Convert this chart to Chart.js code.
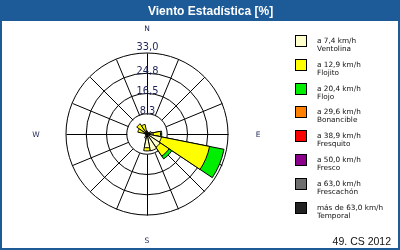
<!DOCTYPE html>
<html>
<head>
<meta charset="utf-8">
<script src="https://cdn.jsdelivr.net/npm/chart.js@4/dist/chart.umd.min.js"></script>
<style>
  html, body { margin: 0; padding: 0; background: #ffffff; }
  #wrap { position: absolute; left: 0; top: 0; width: 400px; height: 250px; }
</style>
</head>
<body>
<div id="wrap"><canvas id="c" width="400" height="250"></canvas></div>
<script>
// ---------------- DATA ----------------
const titleText = 'Viento Estadística [%]';
const footerText = '49. CS 2012';
const directions = ['N','NNE','NE','ENE','E','ESE','SE','SSE','S','SSW','SW','WSW','W','WNW','NW','NNW'];
// percentage per speed class and direction
const ventolina  = [1.2, 0.8, 0.8, 1.8, 2.5, 6.0, 6.5, 7.0, 5.6, 1.8, 0.8, 0.6, 0.8, 1.2, 1.8, 1.2];
const flojito    = [0, 0, 0, 0, 3.0, 20.0, 4.3, 0, 1.3, 0, 0, 0, 0, 2.6, 3.2, 2.8];
const flojo      = [0, 0, 0, 0, 0.5, 6.0, 1.4, 0, 0, 0, 0, 0, 0, 0, 0, 0];
const bonancible = [0, 0, 0, 0, 0, 0, 0, 0, 0, 0, 0, 0, 0, 0, 0, 0];
const fresquito  = [0, 0, 0, 0, 0, 0, 0, 0, 0, 0, 0, 0, 0, 0, 0, 0];
const fresco     = [0, 0, 0, 0, 0, 0, 0, 0, 0, 0, 0, 0, 0, 0, 0, 0];
const frescachon = [0, 0, 0, 0, 0, 0, 0, 0, 0, 0, 0, 0, 0, 0, 0, 0];
const temporal   = [0, 0, 0, 0, 0, 0, 0, 0, 0, 0, 0, 0, 0, 0, 0, 0];
const classRanges = ['a 7,4 km/h','a 12,9 km/h','a 20,4 km/h','a 29,6 km/h','a 38,9 km/h','a 50,0 km/h','a 63,0 km/h','más de 63,0 km/h'];
const classNames  = ['Ventolina','Flojito','Flojo','Bonancible','Fresquito','Fresco','Frescachón','Temporal'];
const tickValues = [8.25, 16.5, 24.75, 33];
const tickLabels = ['8,3', '16,5', '24,8', '33,0'];
const compassLabels = ['N', 'E', 'S', 'W'];
const compassIndex  = [0, 4, 8, 12];

// ---------------- STYLE ----------------
const classColors = ['#ffffcc','#ffff00','#00ee00','#ff8000','#ff0000','#8b008b','#6e6e6e','#222222'];
const frameColor = '#1c5b97';
const textDark = '#111111';
const scaleText = '#1c2458';

const classSeries = [ventolina, flojito, flojo, bonancible, fresquito, fresco, frescachon, temporal];

// cumulative (stacked) radii built from the class series
const cumulative = [];
classSeries.forEach((s, k) => {
  cumulative.push(s.map((v, i) => (k === 0 ? 0 : cumulative[k - 1][i]) + v));
});
const datasets = classSeries.map((s, k) => ({
  label: classNames[k],
  data: s.map((v, i) => (v > 0 ? cumulative[k][i] : 0)),
  backgroundColor: classColors[k],
  borderColor: '#000000',
  borderWidth: 1
}));

const decor = {
  id: 'decor',
  beforeDraw(chart) {
    const ctx = chart.ctx;
    ctx.save();
    ctx.fillStyle = '#ffffff';
    ctx.fillRect(0, 0, 400, 250);
    ctx.fillStyle = frameColor;
    ctx.fillRect(0, 0, 400, 21);
    ctx.fillRect(0, 0, 2, 250);
    ctx.fillRect(398, 0, 2, 250);
    ctx.fillRect(0, 248, 400, 2);
    ctx.fillStyle = '#ffffff';
    ctx.font = 'bold 12px "Liberation Sans"';
    ctx.textAlign = 'left';
    ctx.textBaseline = 'alphabetic';
    ctx.fillText(titleText, 148, 15);
    ctx.restore();
  },
  beforeDatasetsDraw(chart) {
    const s = chart.scales.r;
    const ctx = chart.ctx;
    const r0 = s.getDistanceFromCenterForValue(tickValues[0]);
    const r1 = s.getDistanceFromCenterForValue(tickValues[tickValues.length - 1]);
    ctx.save();
    ctx.strokeStyle = '#000000';
    ctx.lineWidth = 1;
    const cx = s.xCenter + 0.5, cy = s.yCenter + 0.5;
    directions.forEach((d, i) => {
      const a = i * 2 * Math.PI / directions.length;
      ctx.beginPath();
      ctx.moveTo(cx + r0 * Math.sin(a), cy - r0 * Math.cos(a));
      ctx.lineTo(cx + r1 * Math.sin(a), cy - r1 * Math.cos(a));
      ctx.stroke();
    });
    ctx.restore();
  },
  afterDraw(chart) {
    const s = chart.scales.r;
    const ctx = chart.ctx;
    ctx.save();
    // radial tick labels
    ctx.font = '9.8px "DejaVu Sans"';
    ctx.fillStyle = scaleText;
    ctx.textAlign = 'center';
    ctx.textBaseline = 'middle';
    tickValues.forEach((v, i) => {
      const r = s.getDistanceFromCenterForValue(v);
      const lift = (i === tickValues.length - 1) ? 6 : 2;
      ctx.fillText(tickLabels[i], s.xCenter + 0.5, s.yCenter - r - lift);
    });
    // compass letters
    ctx.font = '7.5px "DejaVu Sans"';
    const R = s.drawingArea;
    compassLabels.forEach((t, j) => {
      const a = compassIndex[j] * 2 * Math.PI / directions.length;
      const pad = (j % 2 === 0) ? 25 : 30;
      ctx.fillText(t, s.xCenter + (R + pad) * Math.sin(a), s.yCenter + 1 - (R + pad) * Math.cos(a));
    });
    // legend
    ctx.textAlign = 'left';
    ctx.textBaseline = 'alphabetic';
    ctx.font = '7.3px "DejaVu Sans"';
    classNames.forEach((n, k) => {
      const top = Math.round(35 + k * 23.8);
      ctx.fillStyle = classColors[k];
      ctx.fillRect(295.5, top + 0.5, 11, 11);
      ctx.strokeStyle = '#000000';
      ctx.lineWidth = 1;
      ctx.strokeRect(295.5, top + 0.5, 11, 11);
      ctx.fillStyle = textDark;
      ctx.fillText(classRanges[k], 317, top + 7.5);
      ctx.fillText(n, 317, top + 16);
    });
    // footer
    ctx.font = '10.5px "Liberation Sans"';
    ctx.textAlign = 'right';
    ctx.fillText(footerText, 391, 245);
    ctx.restore();
  }
};

new Chart(document.getElementById('c'), {
  type: 'polarArea',
  data: { labels: directions, datasets: datasets },
  options: {
    responsive: false,
    animation: false,
    layout: { padding: { left: 66, right: 172, top: 53, bottom: 35 } },
    plugins: { legend: { display: false }, tooltip: { enabled: false }, title: { display: false } },
    scales: {
      r: {
        min: 0,
        max: 33,
        startAngle: -180 / directions.length,
        ticks: { display: false, stepSize: 8.25 },
        grid: { circular: true, color: '#000000', lineWidth: 1 },
        angleLines: { display: false },
        pointLabels: { display: false }
      }
    }
  },
  plugins: [decor]
});
</script>
</body>
</html>
